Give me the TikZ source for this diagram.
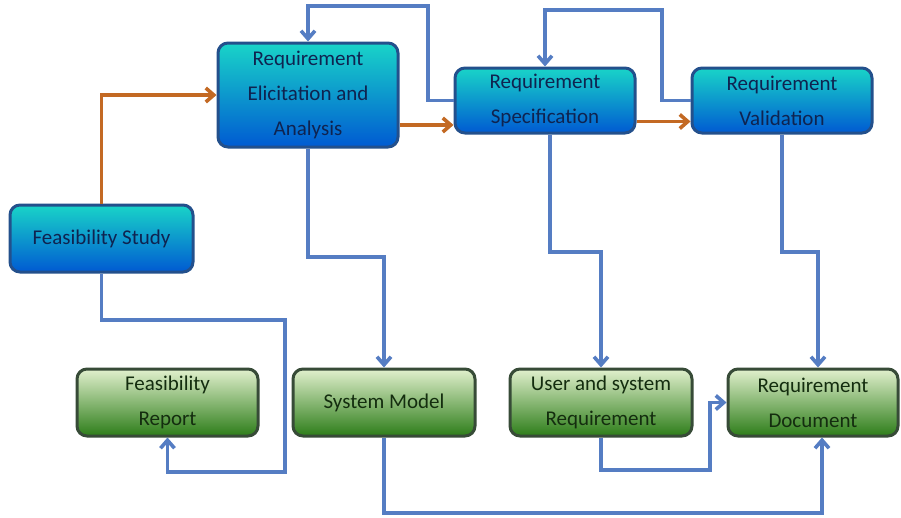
\documentclass[tikz,border=0pt]{standalone}
\usepackage{fontspec}
\setmainfont{Carlito}
\usetikzlibrary{arrows.meta,shadings}
\definecolor{bluetop}{RGB}{25,212,200}
\definecolor{bluemid}{RGB}{0,172,228}
\definecolor{bluebot}{RGB}{0,90,210}
\definecolor{blueedge}{RGB}{35,80,140}
\definecolor{bluetext}{RGB}{15,35,80}
\definecolor{greentop}{RGB}{225,240,205}
\definecolor{greenmid}{RGB}{150,200,110}
\definecolor{greenbot}{RGB}{45,125,25}
\definecolor{greenedge}{RGB}{55,75,55}
\definecolor{greentext}{RGB}{20,45,15}
\definecolor{flowblue}{RGB}{85,125,195}
\definecolor{floworange}{RGB}{195,105,35}
\tikzset{
  x=1pt, y=-1pt,
  boxbase/.style={rounded corners=10pt, line width=3pt, align=center,
    inner sep=2pt, font=\fontsize{21}{35}\selectfont},
  bluebox/.style={boxbase, draw=blueedge, text=bluetext,
    top color=bluetop, middle color=bluemid, bottom color=bluebot},
  greenbox/.style={boxbase, draw=greenedge, text=greentext,
    top color=greentop, middle color=greenmid, bottom color=greenbot},
  bflow/.style={draw=flowblue, line width=3.6pt,
    -{Straight Barb[length=8pt,width=14pt]}},
  oflow/.style={draw=floworange, line width=3.6pt,
    -{Straight Barb[length=8pt,width=14pt]}},
}
\begin{document}
\begin{tikzpicture}
\useasboundingbox[fill=white] (0,0) rectangle (901,517);

% process boxes
\node[bluebox, minimum width=183pt, minimum height=67pt] (fs) at (101.5,238.5) {Feasibility Study};
\node[bluebox, minimum width=180pt, minimum height=104pt] (rea) at (308,95) {Requirement\\Elicitation and\\Analysis};
\node[bluebox, minimum width=180pt, minimum height=65pt] (rs) at (545,100.5) {Requirement\\Specification};
\node[bluebox, minimum width=180pt, minimum height=65pt] (rv) at (782,100.5) {Requirement\\Validation};

% deliverable boxes
\node[greenbox, minimum width=181pt, minimum height=67pt] (fr) at (167.5,402.5) {Feasibility\\Report};
\node[greenbox, minimum width=182pt, minimum height=67pt] (sm) at (384,402.5) {System Model};
\node[greenbox, minimum width=182pt, minimum height=67pt] (us) at (601,402.5) {User and system\\Requirement};
\node[greenbox, minimum width=170pt, minimum height=67pt] (rd) at (813,402.5) {Requirement\\Document};

% main process flow
\draw[oflow] (fs.north) |- (rea.west);
\draw[oflow] ([yshift=-30pt]rea.east) -- ([yshift=-30pt]rea.east -| rs.west);
\draw[oflow] ([yshift=-21pt]rs.east) -- ([yshift=-21pt]rs.east -| rv.west);

% feedback loops
\coordinate (t1) at (428,6);
\coordinate (t2) at (662,10);
\draw[bflow] (rs.west) -| (t1) -| (rea.north);
\draw[bflow] (rv.west) -| (t2) -| (rs.north);

% outputs
\coordinate (b1) at (308,257);
\coordinate (b2) at (550,252);
\coordinate (b3) at (818,252);
\draw[bflow] (rea.south) -- (b1) -| (sm.north);
\draw[bflow] (b2 |- rs.south) -- (b2) -| (us.north);
\draw[bflow] (rv.south) |- (b3) -- (b3 |- rd.north);

\coordinate (c1) at (285,320);
\coordinate (c2) at (285,472);
\draw[bflow] (fs.south) |- (c1) -- (c2) -| (fr.south);

\coordinate (c3) at (710,470);
\draw[bflow] (us.south) |- (c3) -- (c3 |- rd.west) -- (rd.west);

\coordinate (c4) at (822,513);
\draw[bflow] (sm.south) |- (c4) -- (c4 |- rd.south);
\end{tikzpicture}
\end{document}
